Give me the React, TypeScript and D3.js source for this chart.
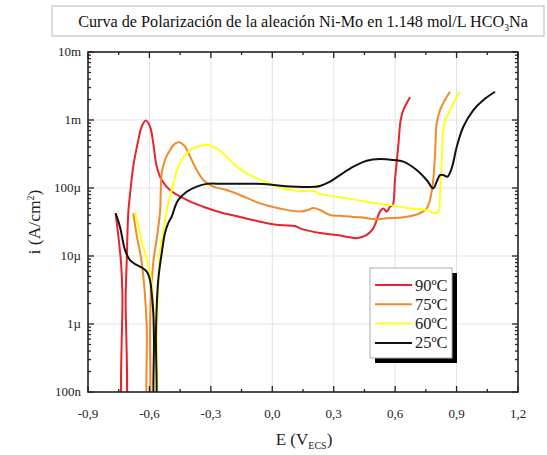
import React from "react";
import * as d3 from "d3";

// E (V vs ECS), i (A/cm2)
const curve90: [number, number][] = [
  [-0.765, 4.25e-5], [-0.752, 2.0e-5], [-0.739, 8.2e-6], [-0.732, 2.7e-6], [-0.729, 5e-8],
  [-0.719, 5e-8], [-0.716, 2.7e-6], [-0.711, 8.2e-6], [-0.703, 4.5e-5], [-0.695, 7.9e-5],
  [-0.679, 2.06e-4], [-0.654, 5.1e-4], [-0.638, 7.96e-4], [-0.618, 9.8e-4], [-0.597, 7.96e-4],
  [-0.581, 4.5e-4], [-0.564, 2.06e-4], [-0.54, 1.31e-4], [-0.5, 9.35e-5], [-0.418, 6.67e-5],
  [-0.337, 5.3e-5], [-0.255, 4.4e-5], [-0.158, 3.75e-5], [-0.06, 3.2e-5], [0.037, 2.85e-5],
  [0.111, 2.76e-5], [0.135, 2.55e-5], [0.233, 2.18e-5], [0.315, 2.04e-5], [0.38, 1.88e-5],
  [0.412, 1.82e-5], [0.461, 2.04e-5], [0.493, 2.55e-5], [0.526, 4.5e-5], [0.542, 5.0e-5],
  [0.559, 4.5e-5], [0.575, 5.3e-5], [0.588, 5.6e-5], [0.599, 1.31e-4], [0.615, 4.05e-4],
  [0.627, 1.0e-3], [0.64, 1.4e-3], [0.673, 2.16e-3],
];

const curve75: [number, number][] = [
  [-0.679, 4.25e-5], [-0.662, 2.0e-5], [-0.638, 8.2e-6], [-0.622, 2.7e-6], [-0.613, 8.7e-7],
  [-0.608, 5e-8], [-0.602, 5e-8], [-0.597, 8.3e-7], [-0.592, 2.7e-6], [-0.581, 8.2e-6],
  [-0.564, 1.84e-5], [-0.548, 4.5e-5], [-0.545, 8.4e-5], [-0.54, 1.66e-4], [-0.524, 2.58e-4],
  [-0.5, 3.6e-4], [-0.475, 4.5e-4], [-0.454, 4.7e-4], [-0.426, 4.05e-4], [-0.401, 2.88e-4],
  [-0.369, 1.84e-4], [-0.337, 1.31e-4], [-0.288, 1.05e-4], [-0.223, 9.35e-5], [-0.158, 7.9e-5],
  [-0.06, 5.95e-5], [0.037, 5.0e-5], [0.135, 4.5e-5], [0.176, 4.75e-5], [0.2, 5.1e-5],
  [0.233, 4.75e-5], [0.282, 4.0e-5], [0.331, 3.9e-5], [0.428, 3.7e-5], [0.51, 3.47e-5],
  [0.559, 3.6e-5], [0.64, 3.7e-5], [0.721, 4.25e-5], [0.754, 5.0e-5], [0.77, 6.67e-5],
  [0.786, 1.31e-4], [0.795, 3.24e-4], [0.803, 8.9e-4], [0.819, 1.4e-3], [0.843, 1.97e-3],
  [0.868, 2.6e-3],
];

const curve60: [number, number][] = [
  [-0.67, 4.4e-5], [-0.641, 1.84e-5], [-0.607, 7.4e-6], [-0.587, 3.75e-6], [-0.578, 8.2e-7],
  [-0.573, 5e-8], [-0.568, 5e-8], [-0.563, 8.2e-7], [-0.558, 3.16e-6], [-0.548, 1.22e-5],
  [-0.532, 2.25e-5], [-0.516, 4.6e-5], [-0.5, 7.4e-5], [-0.483, 1.17e-4], [-0.459, 2.06e-4],
  [-0.426, 3.05e-4], [-0.386, 3.84e-4], [-0.32, 4.3e-4], [-0.271, 3.84e-4], [-0.223, 2.88e-4],
  [-0.174, 2.06e-4], [-0.093, 1.47e-4], [-0.011, 1.17e-4], [0.07, 9.6e-5], [0.151, 9.0e-5],
  [0.2, 9.1e-5], [0.233, 8.2e-5], [0.315, 7.45e-5], [0.396, 6.8e-5], [0.477, 6.1e-5],
  [0.575, 5.6e-5], [0.673, 5.0e-5], [0.754, 4.75e-5], [0.795, 4.25e-5], [0.811, 4.5e-5],
  [0.819, 7.45e-5], [0.827, 2.3e-4], [0.835, 7.1e-4], [0.843, 9.4e-4], [0.868, 1.4e-3],
  [0.892, 1.97e-3], [0.917, 2.6e-3],
];

const curve25: [number, number][] = [
  [-0.765, 4.25e-5], [-0.744, 2.7e-5], [-0.719, 1.22e-5], [-0.695, 8.7e-6], [-0.67, 7.6e-6],
  [-0.646, 7.0e-6], [-0.613, 5.9e-6], [-0.597, 4.4e-6], [-0.589, 2.86e-6], [-0.581, 1.45e-6],
  [-0.578, 5.8e-7], [-0.575, 5e-8], [-0.57, 5e-8], [-0.568, 8.2e-7], [-0.557, 4.4e-6],
  [-0.54, 1.1e-5], [-0.524, 2.18e-5], [-0.508, 3.05e-5], [-0.491, 3.8e-5], [-0.475, 5.3e-5],
  [-0.459, 6.67e-5], [-0.418, 8.8e-5], [-0.369, 1.05e-4], [-0.32, 1.15e-4], [-0.239, 1.15e-4],
  [-0.076, 1.15e-4], [0.005, 1.11e-4], [0.087, 1.05e-4], [0.168, 1.035e-4], [0.233, 1.07e-4],
  [0.282, 1.24e-4], [0.331, 1.55e-4], [0.396, 2.06e-4], [0.461, 2.52e-4], [0.526, 2.67e-4],
  [0.591, 2.58e-4], [0.64, 2.44e-4], [0.705, 1.84e-4], [0.754, 1.31e-4], [0.786, 9.9e-5],
  [0.803, 1.24e-4], [0.819, 1.55e-4], [0.835, 1.55e-4], [0.855, 1.47e-4], [0.876, 1.95e-4],
  [0.901, 4.05e-4], [0.933, 7.96e-4], [0.982, 1.4e-3], [1.031, 1.97e-3], [1.088, 2.6e-3],
];

const seriesNames = ["90ºC", "75ºC", "60ºC", "25ºC"];
const seriesColors = ["#e8232b", "#f08a2c", "#ffff1e", "#111111"];
const seriesData = [curve90, curve75, curve60, curve25];

const xTicks = [-0.9, -0.6, -0.3, 0.0, 0.3, 0.6, 0.9, 1.2];
const yTicks = [1e-2, 1e-3, 1e-4, 1e-5, 1e-6, 1e-7];
const yTickLabels = ["10m", "1m", "100µ", "10µ", "1µ", "100n"];

const W = 547;
const H = 455;
const L = 88, R = 518, T = 52, B = 392;

const serif = { fontFamily: '"Liberation Serif", "Times New Roman", serif' };

export default function App() {
  const x = d3.scaleLinear().domain([-0.9, 1.2]).range([L, R]);
  const y = d3.scaleLog().domain([1e-7, 1e-2]).range([B, T]);
  const line = d3
    .line<[number, number]>()
    .x((d) => x(d[0]))
    .y((d) => y(d[1]))
    .curve(d3.curveCatmullRom.alpha(0.5));

  const xMinor = d3.range(-0.75, 1.2, 0.3);
  const yMinor: number[] = [];
  for (let e = -7; e < -2; e++) {
    for (let k = 2; k <= 9; k++) yMinor.push(k * Math.pow(10, e));
  }

  return (
    <svg
      width={W}
      height={H}
      style={{ position: "absolute", left: 0, top: 0, background: "#fff" }}
    >
      <defs>
        <clipPath id="plot">
          <rect x={L} y={T} width={R - L} height={B - T} />
        </clipPath>
      </defs>

      {/* title box */}
      <rect x={52} y={6} width={492} height={30} fill="#fff" stroke="#c4c4c4" strokeWidth={1.2} />
      <text x={303} y={27} textAnchor="middle" fontSize={16.2} fill="#111" style={serif}>
        Curva de Polarización de la aleación Ni-Mo en 1.148 mol/L HCO
        <tspan fontSize={9.5} dy={4}>3</tspan>
        <tspan dy={-4}>Na</tspan>
      </text>

      {/* grid */}
      <g stroke="#e2e2e2" strokeWidth={1}>
        {xTicks.slice(1, -1).map((t) => (
          <line key={"gx" + t} x1={x(t)} x2={x(t)} y1={T} y2={B} />
        ))}
        {yTicks.slice(1, -1).map((t) => (
          <line key={"gy" + t} x1={L} x2={R} y1={y(t)} y2={y(t)} />
        ))}
      </g>

      {/* curves */}
      <g clipPath="url(#plot)" fill="none" strokeWidth={2} strokeLinejoin="round">
        {seriesData.map((d, i) => (
          <path key={seriesNames[i]} d={line(d) || ""} stroke={seriesColors[i]} />
        ))}
      </g>

      {/* frame and ticks */}
      <rect x={L} y={T} width={R - L} height={B - T} fill="none" stroke="#222" strokeWidth={1.6} />
      <g stroke="#222" strokeWidth={1.3}>
        {xTicks.map((t) => (
          <g key={"tx" + t}>
            <line x1={x(t)} x2={x(t)} y1={B} y2={B - 6} />
            <line x1={x(t)} x2={x(t)} y1={T} y2={T + 6} />
          </g>
        ))}
        {xMinor.map((t) => (
          <g key={"mx" + t}>
            <line x1={x(t)} x2={x(t)} y1={B} y2={B - 3} />
            <line x1={x(t)} x2={x(t)} y1={T} y2={T + 3} />
          </g>
        ))}
        {yTicks.map((t) => (
          <g key={"ty" + t}>
            <line x1={L} x2={L + 6} y1={y(t)} y2={y(t)} />
            <line x1={R} x2={R - 6} y1={y(t)} y2={y(t)} />
          </g>
        ))}
        {yMinor.map((t) => (
          <g key={"my" + t}>
            <line x1={L} x2={L + 3} y1={y(t)} y2={y(t)} />
            <line x1={R} x2={R - 3} y1={y(t)} y2={y(t)} />
          </g>
        ))}
      </g>

      {/* tick labels */}
      <g fontSize={13} fill="#222">
        {xTicks.map((t) => (
          <text key={"lx" + t} x={x(t)} y={418} textAnchor="middle" style={serif}>
            {d3.format(".1f")(t).replace(".", ",").replace("−", "-")}
          </text>
        ))}
        {yTicks.map((t, i) => (
          <text key={"ly" + t} x={81} y={y(t) + 4} textAnchor="end" style={serif}>
            {yTickLabels[i]}
          </text>
        ))}
      </g>

      {/* axis titles */}
      <text x={304} y={445} textAnchor="middle" fontSize={17} fill="#222" style={serif}>
        E (V<tspan fontSize={10} dy={4}>ECS</tspan>
        <tspan dy={-4}>)</tspan>
      </text>
      <text
        transform={`translate(40, 222) rotate(-90)`}
        textAnchor="middle"
        fontSize={17.5}
        fill="#222"
        style={serif}
      >
        i (A/cm<tspan fontSize={10} dy={-6}>2</tspan>
        <tspan dy={6}>)</tspan>
      </text>

      {/* legend */}
      <rect x={375} y={273} width={82} height={90} fill="#000" />
      <rect x={370} y={268} width={82} height={90} fill="#fff" stroke="#aaa" strokeWidth={1} />
      {seriesNames.map((n, i) => (
        <g key={"lg" + n}>
          <line
            x1={375}
            x2={412}
            y1={285 + i * 19.3}
            y2={285 + i * 19.3}
            stroke={seriesColors[i]}
            strokeWidth={2}
          />
          <text x={415} y={290.5 + i * 19.3} fontSize={16.5} fill="#222" style={serif}>
            {n}
          </text>
        </g>
      ))}
    </svg>
  );
}
